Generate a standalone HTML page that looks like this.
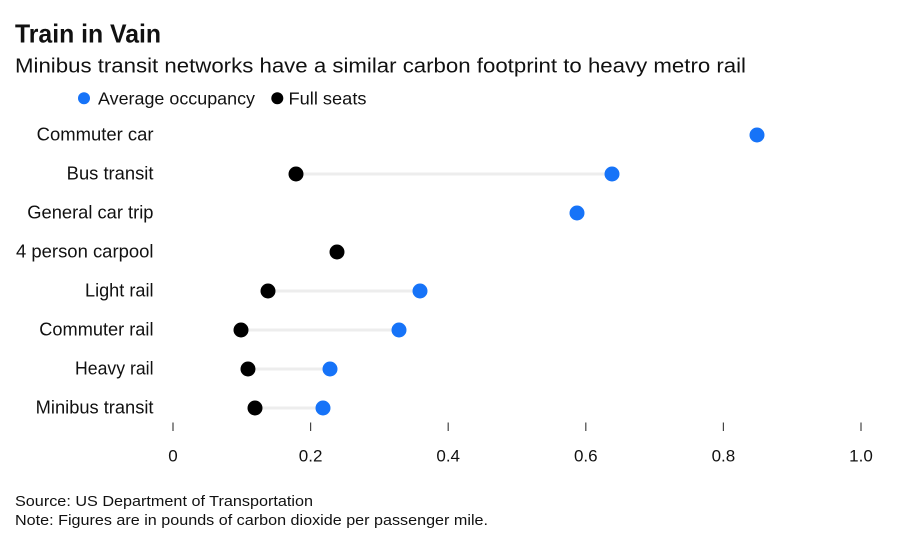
<!DOCTYPE html>
<html>
<head>
<meta charset="utf-8">
<style>
  html,body{margin:0;padding:0;background:#fff;}
  svg{display:block;}
  text{font-family:"Liberation Sans",Arial,sans-serif;fill:#111;}
</style>
</head>
<body>
<svg width="907" height="547" viewBox="0 0 907 547" xmlns="http://www.w3.org/2000/svg">
  <rect x="0" y="0" width="907" height="547" fill="#fff"/>
  <!-- Title -->
  <text x="15" y="42.5" font-size="26" font-weight="bold" fill="#000" textLength="146" lengthAdjust="spacingAndGlyphs">Train in Vain</text>
  <text x="15" y="72.5" font-size="20" textLength="731" lengthAdjust="spacingAndGlyphs">Minibus transit networks have a similar carbon footprint to heavy metro rail</text>

  <!-- Legend -->
  <circle cx="84" cy="98.3" r="6" fill="#1673f8"/>
  <text x="98" y="104.3" font-size="17.5" textLength="157" lengthAdjust="spacingAndGlyphs">Average occupancy</text>
  <circle cx="277.3" cy="98.3" r="6" fill="#000"/>
  <text x="288.5" y="104.3" font-size="17.5" textLength="78" lengthAdjust="spacingAndGlyphs">Full seats</text>

  <!-- Category labels -->
  <g font-size="18">
    <text x="36.7" y="140.5" textLength="116.8" lengthAdjust="spacingAndGlyphs">Commuter car</text>
    <text x="66.7" y="179.5" textLength="86.8" lengthAdjust="spacingAndGlyphs">Bus transit</text>
    <text x="27.3" y="218.5" textLength="126.2" lengthAdjust="spacingAndGlyphs">General car trip</text>
    <text x="16" y="257.5" textLength="137.5" lengthAdjust="spacingAndGlyphs">4 person carpool</text>
    <text x="85" y="296.5" textLength="68.5" lengthAdjust="spacingAndGlyphs">Light rail</text>
    <text x="39.3" y="335.5" textLength="114.2" lengthAdjust="spacingAndGlyphs">Commuter rail</text>
    <text x="75" y="374.5" textLength="78.5" lengthAdjust="spacingAndGlyphs">Heavy rail</text>
    <text x="35.7" y="413.5" textLength="117.8" lengthAdjust="spacingAndGlyphs">Minibus transit</text>
  </g>

  <!-- Connectors -->
  <g stroke="#ededed" stroke-width="3">
    <line x1="296" y1="174" x2="612" y2="174"/>
    <line x1="268" y1="291" x2="420" y2="291"/>
    <line x1="241" y1="330" x2="399" y2="330"/>
    <line x1="248" y1="369" x2="330" y2="369"/>
    <line x1="255" y1="408" x2="323" y2="408"/>
  </g>

  <!-- Full seats (black) -->
  <g fill="#000">
    <circle cx="296" cy="174" r="7.5"/>
    <circle cx="337" cy="252" r="7.5"/>
    <circle cx="268" cy="291" r="7.5"/>
    <circle cx="241" cy="330" r="7.5"/>
    <circle cx="248" cy="369" r="7.5"/>
    <circle cx="255" cy="408" r="7.5"/>
  </g>

  <!-- Average occupancy (blue) -->
  <g fill="#1673f8">
    <circle cx="757" cy="135" r="7.5"/>
    <circle cx="612" cy="174" r="7.5"/>
    <circle cx="577" cy="213" r="7.5"/>
    <circle cx="420" cy="291" r="7.5"/>
    <circle cx="399" cy="330" r="7.5"/>
    <circle cx="330" cy="369" r="7.5"/>
    <circle cx="323" cy="408" r="7.5"/>
  </g>

  <!-- Ticks -->
  <g stroke="#444" stroke-width="1.2">
    <line x1="173" y1="422.5" x2="173" y2="431"/>
    <line x1="310.6" y1="422.5" x2="310.6" y2="431"/>
    <line x1="448.2" y1="422.5" x2="448.2" y2="431"/>
    <line x1="585.8" y1="422.5" x2="585.8" y2="431"/>
    <line x1="723.4" y1="422.5" x2="723.4" y2="431"/>
    <line x1="861" y1="422.5" x2="861" y2="431"/>
  </g>
  <g font-size="17" text-anchor="middle">
    <text x="173" y="461.5">0</text>
    <text x="310.6" y="461.5">0.2</text>
    <text x="448.2" y="461.5">0.4</text>
    <text x="585.8" y="461.5">0.6</text>
    <text x="723.4" y="461.5">0.8</text>
    <text x="861" y="461.5">1.0</text>
  </g>

  <!-- Footer -->
  <text x="15" y="506" font-size="15" textLength="298" lengthAdjust="spacingAndGlyphs">Source: US Department of Transportation</text>
  <text x="15" y="525" font-size="15" textLength="473" lengthAdjust="spacingAndGlyphs">Note: Figures are in pounds of carbon dioxide per passenger mile.</text>
</svg>
</body>
</html>
